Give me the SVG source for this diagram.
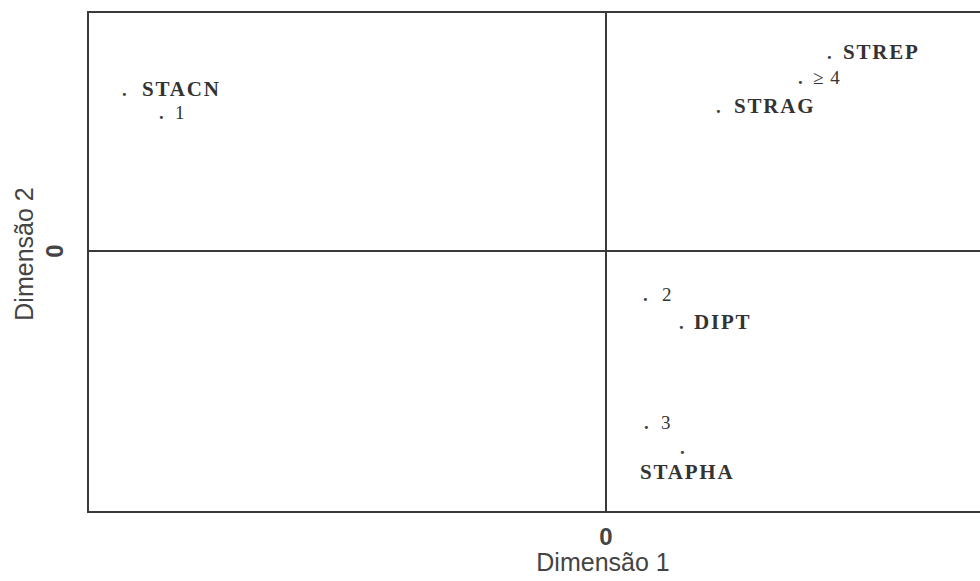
<svg xmlns="http://www.w3.org/2000/svg" width="980" height="581" viewBox="0 0 980 581">
<style>
.ax{stroke:#3a3a3a;stroke-width:2;fill:none}
.lb{font-family:"Liberation Serif",serif;font-weight:bold;font-size:21px;letter-spacing:1.8px;fill:#333}
.nm{font-family:"Liberation Serif",serif;font-size:19px;letter-spacing:1px;fill:#333}
.dt{font-family:"Liberation Serif",serif;font-weight:bold;font-size:19px;fill:#444}
.at{font-family:"Liberation Sans",Arial,sans-serif;font-size:25px;fill:#444}
.az{font-family:"Liberation Sans",Arial,sans-serif;font-weight:bold;font-size:24px;fill:#444}
</style>
<rect width="980" height="581" fill="#fff"/>
<g id="axes">
<path class="ax" d="M980 12 H88 V512 H980"/>
<path class="ax" d="M606 12 V512 M88 251 H980"/>
<text class="az" x="606" y="545" text-anchor="middle">0</text>
<text class="at" x="603" y="571" text-anchor="middle">Dimensão 1</text>
<text class="at" transform="translate(33 254) rotate(-90)" text-anchor="middle">Dimensão 2</text>
<text class="az" transform="translate(63 251) rotate(-90)" text-anchor="middle">0</text>
</g>
<g id="connectors"></g>
<g id="STREP"><text class="dt" x="827" y="59">.</text><text class="lb" x="843" y="59">STREP</text></g>
<g id="ge4"><text class="dt" x="798" y="84">.</text><text class="nm" x="813" y="84">≥ 4</text></g>
<g id="STRAG"><text class="dt" x="716" y="113">.</text><text class="lb" x="734" y="113">STRAG</text></g>
<g id="STACN"><text class="dt" x="122" y="96">.</text><text class="lb" x="142" y="96">STACN</text></g>
<g id="n1"><text class="dt" x="159" y="119">.</text><text class="nm" x="175" y="119">1</text></g>
<g id="n2"><text class="dt" x="643" y="301">.</text><text class="nm" x="662" y="301">2</text></g>
<g id="DIPT"><text class="dt" x="679" y="329">.</text><text class="lb" x="694" y="329">DIPT</text></g>
<g id="n3"><text class="dt" x="644" y="429">.</text><text class="nm" x="661" y="429">3</text></g>
<g id="STAPHA"><text class="dt" x="680" y="454">.</text><text class="lb" x="640" y="479">STAPHA</text></g>
</svg>
